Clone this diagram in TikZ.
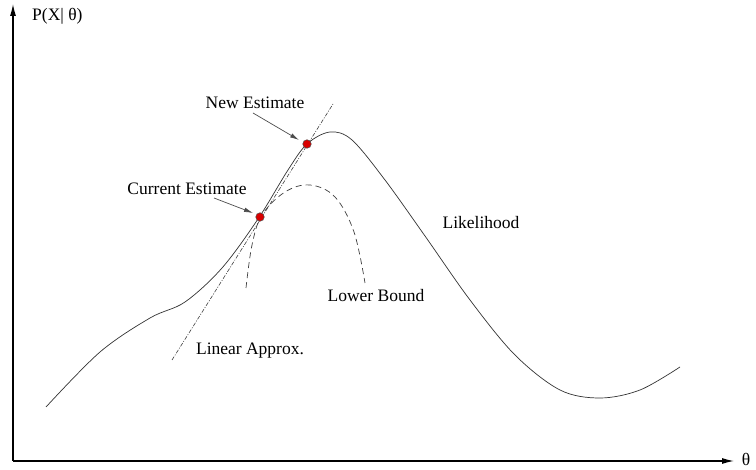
\documentclass[tikz,border=0pt]{standalone}
\usepackage{fontspec}
\setmainfont{Liberation Serif}
\usetikzlibrary{arrows.meta}
\begin{document}
\begin{tikzpicture}[x=1pt,y=-1pt,
  lbl/.style={font=\fontsize{17.5}{20}\selectfont, inner sep=0pt},
  axis/.style={line width=1.2pt, -{Latex[length=12pt,width=6pt]}},
  curve/.style={line width=0.7pt, draw=black!80},
  pointer/.style={line width=0.7pt, draw=black!70, -{Latex[length=9pt,width=4.5pt]}},
  est/.style={circle, fill=red!85!black, draw=black!70, line width=0.5pt, minimum size=8.5pt, inner sep=0pt}]
\useasboundingbox (0,0) rectangle (756,470);
% axes
\coordinate (O) at (13,461);
\coordinate (ytop) at (13,4);
\coordinate (xend) at (734,461);
\draw[axis] (O) -- (ytop);
\draw[axis] (O) -- (xend);
\node[lbl, anchor=west] (ylab) at (32,16) {P(X| θ)};
\node[lbl] (xlab) at (746,459) {θ};
% likelihood
\draw[curve] plot[smooth, tension=0.55] coordinates {
 (46,407) (100,352) (150,318) (185,302) (222,268) (258,219) (288,170) (307,144)
 (330,132) (352,140) (385,180) (425,236) (470,300) (515,355) (560,390) (600,398)
 (640,390) (680,367)};
% linear approximation
\coordinate (la1) at (172,360);
\coordinate (la2) at (333,104);
\draw[line width=0.6pt, draw=black!75, dash pattern=on 4pt off 1.5pt on 1pt off 1.5pt] (la1) -- (la2);
% lower bound
\draw[line width=0.7pt, draw=black!75, dash pattern=on 6pt off 4pt] plot[smooth, tension=0.6] coordinates {
 (246,288) (252,245) (262,215) (285,192) (310,185) (335,197) (354,232) (365,283)};
% estimates
\node[est] (cur) at (260,217) {};
\node[est] (new) at (307,144) {};
% labels
\node[lbl] (newlab) at (255,103) {New Estimate};
\node[lbl] (curlab) at (187,189) {Current Estimate};
\node[lbl] (lb) at (376,296) {Lower Bound};
\node[lbl] (la) at (250,351) {Linear Approx.};
\node[lbl] (lik) at (481,223) {Likelihood};
\coordinate (p1) at (253,113);
\coordinate (p2) at (214,198);
\draw[pointer] (p1) -- (299,140);
\draw[pointer] (p2) -- (253,213);
\end{tikzpicture}
\end{document}
